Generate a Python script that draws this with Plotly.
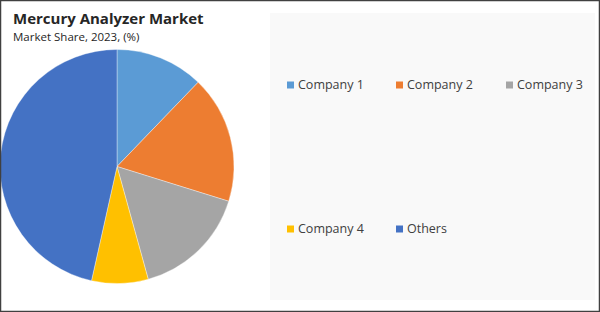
import plotly.graph_objects as go

labels = ["Company 1", "Company 2", "Company 3", "Company 4", "Others"]
values = [12.2, 17.6, 15.9, 7.8, 46.5]
colors = ["#5B9BD5", "#ED7D31", "#A5A5A5", "#FFC000", "#4472C4"]

W, H = 600, 312

fig = go.Figure()
fig.add_trace(go.Pie(
    labels=labels, values=values, sort=False, direction="clockwise", rotation=0,
    marker=dict(colors=colors, line=dict(color="rgba(255,255,255,0.6)", width=0.6)),
    textinfo="none", hoverinfo="label+percent", showlegend=False,
    domain=dict(x=[0 / W, 234 / W], y=[1 - 283.5 / H, 1 - 49.5 / H]),
))

shapes = [
    dict(type="rect", xref="paper", yref="paper", x0=270 / W, x1=595 / W,
         y0=1 - 300 / H, y1=1 - 13 / H, fillcolor="#F9F9F9", line=dict(width=0), layer="below"),
    dict(type="rect", xref="paper", yref="paper", x0=0.5 / W, x1=1 - 0.5 / W,
         y0=0.5 / H, y1=1 - 0.5 / H, line=dict(color="#404040", width=1.5)),
]
annotations = [
    dict(text="<b>Mercury Analyzer Market</b>", x=11 / W, y=1 - 18 / H, xref="paper", yref="paper",
         xanchor="left", yanchor="middle", showarrow=False,
         font=dict(family="Open Sans", size=15, color="#262626")),
    dict(text="Market Share, 2023, (%)", x=11 / W, y=1 - 36 / H, xref="paper", yref="paper",
         xanchor="left", yanchor="middle", showarrow=False,
         font=dict(family="Open Sans", size=11.5, color="#262626")),
]

leg_x = [287, 396, 506, 287, 396]
leg_y = [85, 85, 85, 229, 229]
for lab, col, lx, ly in zip(labels, colors, leg_x, leg_y):
    shapes.append(dict(type="rect", xref="paper", yref="paper",
                       x0=lx / W, x1=(lx + 7) / W, y0=1 - (ly + 3.5) / H, y1=1 - (ly - 3.5) / H,
                       fillcolor=col, line=dict(width=0)))
    annotations.append(dict(text=lab, x=(lx + 9) / W, y=1 - ly / H, xref="paper", yref="paper",
                            xanchor="left", yanchor="middle", showarrow=False,
                            font=dict(family="Open Sans", size=12.5, color="#404040")))

fig.update_layout(
    width=W, height=H, margin=dict(l=0, r=0, t=0, b=0),
    paper_bgcolor="white", plot_bgcolor="white",
    shapes=shapes, annotations=annotations,
)
fig.write_html("out.html")
